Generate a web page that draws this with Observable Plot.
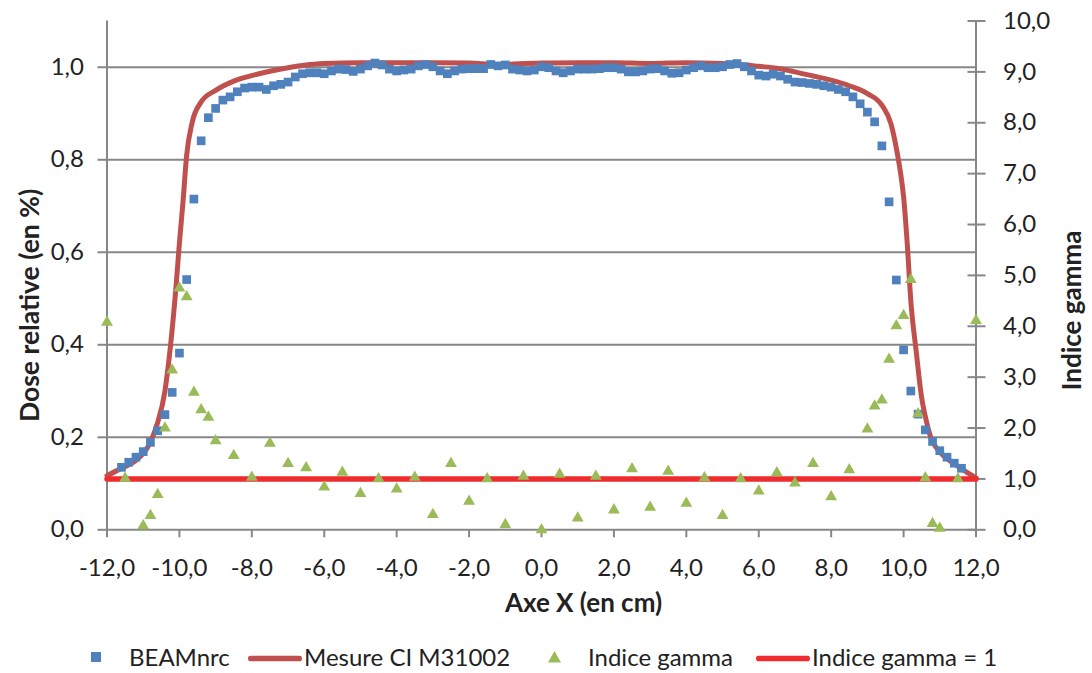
<!DOCTYPE html>
<html>
<head>
<meta charset="utf-8">
<script src="https://cdn.jsdelivr.net/npm/d3@7"></script>
<script src="https://cdn.jsdelivr.net/npm/@observablehq/plot@0.6"></script>
<style>
  body { margin: 0; background: #fff; font-family: Lato, "Open Sans", sans-serif; }
  #wrap { position: relative; width: 1092px; height: 673px; overflow: hidden; }
  #legend { position: absolute; left: 0; top: 640px; width: 1092px; height: 33px; font-size: 24px; color: #222; }
  #legend .it { position: absolute; top: 50%; transform: translateY(-50%); white-space: nowrap; line-height: 1; }
</style>
</head>
<body>
<div id="wrap">
  <div id="chart"></div>
  <div id="legend"></div>
</div>
<script>
// ---------- data ----------
const beamX = [-11.6,-11.4,-11.2,-11.0,-10.8,-10.6,-10.4,-10.2,-10.0,-9.8,
  -9.6,-9.4,-9.2,-9.0,-8.8,-8.6,-8.4,-8.2,-8.0,-7.8,
  -7.6,-7.4,-7.2,-7.0,-6.8,-6.6,-6.4,-6.2,-6.0,-5.8,
  -5.6,-5.4,-5.2,-5.0,-4.8,-4.6,-4.4,-4.2,-4.0,-3.8,
  -3.6,-3.4,-3.2,-3.0,-2.8,-2.6,-2.4,-2.2,-2.0,-1.8,
  -1.6,-1.4,-1.2,-1.0,-0.8,-0.6,-0.4,-0.2,0.0,0.2,
  0.4,0.6,0.8,1.0,1.2,1.4,1.6,1.8,2.0,2.2,
  2.4,2.6,2.8,3.0,3.2,3.4,3.6,3.8,4.0,4.2,
  4.4,4.6,4.8,5.0,5.2,5.4,5.6,5.8,6.0,6.2,
  6.4,6.6,6.8,7.0,7.2,7.4,7.6,7.8,8.0,8.2,
  8.4,8.6,8.8,9.0,9.2,9.4,9.6,9.8,10.0,10.2,
  10.4,10.6,10.8,11.0,11.2,11.4,11.6];
const beamDose = [0.135,0.146,0.157,0.169,0.189,0.214,0.249,0.297,0.382,0.541,
  0.715,0.841,0.891,0.911,0.929,0.936,0.947,0.955,0.957,0.957,
  0.952,0.960,0.963,0.968,0.979,0.986,0.988,0.988,0.986,0.992,
  0.996,0.995,0.991,0.996,1.003,1.009,1.005,0.996,0.992,0.994,
  0.996,1.003,1.006,1.001,0.992,0.986,0.992,0.996,0.997,0.997,
  0.997,1.006,1.003,1.005,0.996,0.994,0.992,0.994,1.001,0.999,
  0.992,0.988,0.992,0.996,0.996,0.996,0.997,0.999,0.999,0.996,
  0.990,0.990,0.992,0.996,0.997,0.992,0.987,0.988,0.994,0.999,
  1.003,0.999,0.999,1.001,1.006,1.008,1.001,0.992,0.983,0.981,
  0.985,0.981,0.974,0.968,0.967,0.965,0.963,0.960,0.957,0.952,
  0.947,0.936,0.921,0.903,0.882,0.830,0.709,0.540,0.389,0.300,
  0.250,0.216,0.191,0.171,0.157,0.144,0.133];

const mesX = [-12.0,-11.6,-11.2,-10.8,-10.6,-10.4,-10.25,-10.1,-10.0,-9.9,
  -9.8,-9.65,-9.4,-9.0,-8.5,-7.8,-7.0,-6.5,-6.0,-5.0,
  -4.0,-3.0,-2.0,-1.2,-0.5,0.0,1.0,2.0,3.0,4.0,
  5.0,5.5,6.0,6.5,7.0,7.5,8.0,8.5,9.0,9.4,
  9.65,9.8,9.9,10.0,10.1,10.2,10.35,10.5,10.6,10.75,
  11.0,11.4,11.75,12.0];
const mesDose = [0.117,0.133,0.150,0.190,0.232,0.300,0.395,0.520,0.620,0.710,
  0.810,0.880,0.925,0.950,0.970,0.986,0.999,1.005,1.008,1.010,
  1.010,1.010,1.009,1.006,1.008,1.009,1.010,1.010,1.008,1.010,
  1.008,1.006,1.002,0.998,0.990,0.981,0.972,0.960,0.943,0.918,
  0.878,0.825,0.780,0.720,0.620,0.495,0.385,0.285,0.245,0.200,
  0.168,0.143,0.124,0.112];

const gammaX = [-12.0,-11.5,-11.0,-10.8,-10.6,-10.4,-10.2,-10.0,-9.8,-9.6,
  -9.4,-9.2,-9.0,-8.5,-8.0,-7.5,-7.0,-6.5,-6.0,-5.5,
  -5.0,-4.5,-4.0,-3.5,-3.0,-2.5,-2.0,-1.5,-1.0,-0.5,
  0.0,0.5,1.0,1.5,2.0,2.5,3.0,3.5,4.0,4.5,
  5.0,5.5,6.0,6.5,7.0,7.5,8.0,8.5,9.0,9.2,
  9.4,9.6,9.8,10.0,10.2,10.4,10.6,10.8,11.0,11.5,
  12.0];
const gammaVal = [4.08,1.01,0.08,0.28,0.69,2.00,3.14,4.75,4.58,2.70,
  2.36,2.21,1.75,1.46,1.03,1.70,1.30,1.22,0.84,1.13,
  0.71,1.00,0.80,1.03,0.30,1.30,0.56,1.00,0.10,1.05,
  0.00,1.09,0.23,1.05,0.39,1.20,0.44,1.15,0.52,1.02,
  0.28,1.00,0.76,1.12,0.92,1.30,0.65,1.18,1.98,2.43,
  2.55,3.35,4.01,4.21,4.92,2.28,1.02,0.12,0.03,1.00,
  4.11];

const gammaOneX = [-12, 12];
const gammaOneVal = [1, 1];

const xTicks = [-12,-10,-8,-6,-4,-2,0,2,4,6,8,10,12];
const leftTicks = [0,0.2,0.4,0.6,0.8,1.0];
const rightTicks = [0,1,2,3,4,5,6,7,8,9,10];

const seriesNames = ["BEAMnrc", "Mesure CI M31002", "Indice gamma", "Indice gamma = 1"];
const xTitle = "Axe X (en cm)";
const yLeftTitle = "Dose relative (en %)";
const yRightTitle = "Indice gamma";

// ---------- styles ----------
const C_BEAM = "#4f81bd", C_MES = "#c0504d", C_GAM = "#9bbb59", C_ONE = "#ef2b2d";
const C_AXIS = "#878787", C_TEXT = "#222";
const leftMax = 1.1, rightMax = 10;
const k = leftMax / rightMax; // secondary -> primary scale
const fmt = d => d.toFixed(1).replace(".", ",");

const beam = beamX.map((x, i) => ({x, y: beamDose[i]}));
const mes = mesX.map((x, i) => ({x, y: mesDose[i]}));
const gam = gammaX.map((x, i) => ({x, y: gammaVal[i] * k}));
const one = gammaOneX.map((x, i) => ({x, y: gammaOneVal[i] * k}));
const rightPos = rightTicks.map(d => d * k);

const chart = Plot.plot({
  width: 1092,
  height: 640,
  marginLeft: 106.5,
  marginRight: 116.5,
  marginTop: 20.5,
  marginBottom: 110.7,
  x: {domain: [-12, 12]},
  y: {domain: [0, leftMax]},
  style: {fontFamily: "Lato, 'Open Sans', sans-serif", fontSize: "24px", color: C_TEXT, background: "#fff"},
  marks: [
    Plot.ruleY(leftTicks.filter(d => d > 0), {stroke: C_AXIS, strokeWidth: 2}),
    Plot.ruleX([-12, 12], {stroke: C_AXIS, strokeWidth: 2}),
    Plot.ruleY([0], {stroke: C_AXIS, strokeWidth: 2}),
    // left axis
    Plot.axisY(leftTicks, {anchor: "left", tickSize: 9, tickPadding: 14, tickFormat: fmt, stroke: C_AXIS, strokeWidth: 2, fill: C_TEXT, fontSize: 24, label: null}),
    // right axis (secondary)
    Plot.axisY(rightPos, {anchor: "right", tickSize: 9, tickPadding: 18, tickFormat: d => fmt(Math.round(d / k * 10) / 10), stroke: C_AXIS, strokeWidth: 2, fill: C_TEXT, fontSize: 24, label: null}),
    Plot.axisY(rightPos, {anchor: "right", tickSize: 9, dx: -9, tickFormat: () => "", stroke: C_AXIS, strokeWidth: 2, label: null}),
    // x axis
    Plot.axisX(xTicks, {anchor: "bottom", tickSize: 8, tickPadding: 21, tickFormat: fmt, stroke: C_AXIS, strokeWidth: 2, fill: C_TEXT, fontSize: 24, label: null}),
    // titles
    Plot.text([xTitle], {frameAnchor: "bottom", textAnchor: "middle", dx: 42, dy: 82, text: d => d, fontWeight: "bold", fontSize: 26, fill: C_TEXT}),
    Plot.text([yLeftTitle], {frameAnchor: "left", textAnchor: "middle", rotate: -90, dx: -76, dy: 30, text: d => d, fontWeight: "bold", fontSize: 26.5, fill: C_TEXT}),
    Plot.text([yRightTitle], {frameAnchor: "right", textAnchor: "middle", rotate: -90, dx: 97, dy: 35, text: d => d, fontWeight: "bold", fontSize: 26, fill: C_TEXT}),
    // series
    Plot.line(mes, {x: "x", y: "y", stroke: C_MES, strokeWidth: 5, curve: "monotone-x"}),
    Plot.dot(beam, {x: "x", y: "y", symbol: "square", fill: C_BEAM, r: 4.9, stroke: null}),
    Plot.line(one, {x: "x", y: "y", stroke: C_ONE, strokeWidth: 5.5}),
    Plot.dot(gam, {x: "x", y: "y", symbol: "triangle", fill: C_GAM, r: 4.4, stroke: null})
  ]
});
document.getElementById("chart").appendChild(chart);

// ---------- legend ----------
const leg = document.getElementById("legend");
const swatches = [
  `<svg width="10" height="10"><rect width="10" height="10" fill="${C_BEAM}"/></svg>`,
  `<svg width="54" height="6"><rect width="54" height="6" rx="3" fill="${C_MES}"/></svg>`,
  `<svg width="13" height="12"><path d="M6.5 0 L13 11.5 L0 11.5 Z" fill="${C_GAM}"/></svg>`,
  `<svg width="54" height="6"><rect width="54" height="6" rx="3" fill="${C_ONE}"/></svg>`
];
const swLeft = [91, 248, 548, 756];
const txLeft = [129, 304, 588, 812];
seriesNames.forEach((name, i) => {
  const s = document.createElement("div");
  s.className = "it"; s.style.left = swLeft[i] + "px"; s.innerHTML = swatches[i];
  s.style.lineHeight = "0";
  leg.appendChild(s);
  const t = document.createElement("div");
  t.className = "it"; t.style.left = txLeft[i] + "px"; t.textContent = name;
  leg.appendChild(t);
});
</script>
</body>
</html>
